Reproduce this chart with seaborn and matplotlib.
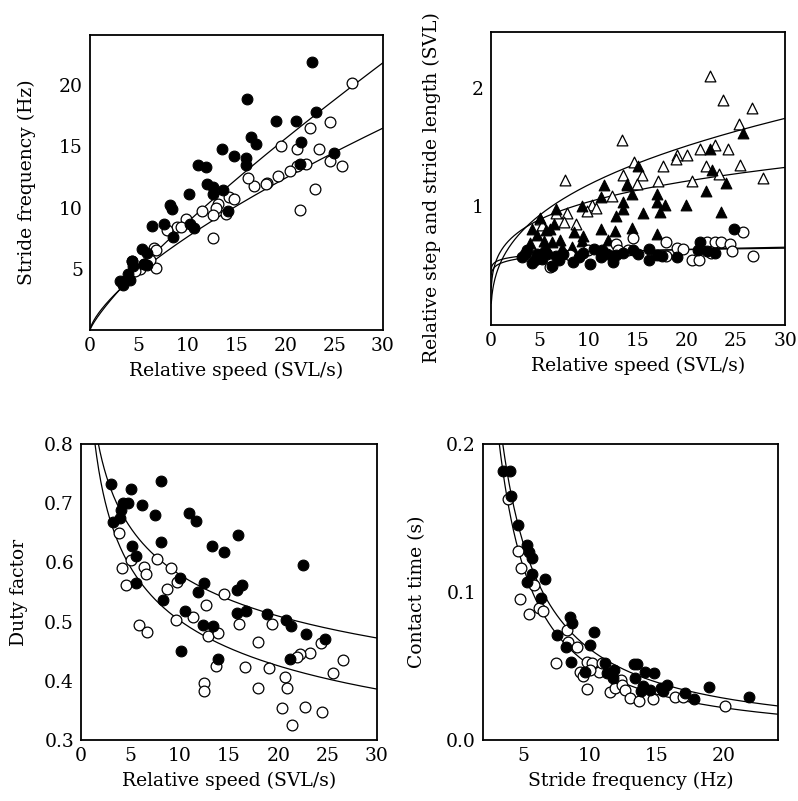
import numpy as np
import matplotlib
matplotlib.use("Agg")
import matplotlib.pyplot as plt
import seaborn as sns

# ---------------- Data ----------------
# Panel A: stride frequency vs relative speed
a_speed_filled = [22.7, 16.1, 23.1, 19.0, 21.1, 16.5, 17.0, 21.6, 13.5, 14.7, 16.0, 16.0, 11.1, 11.9,
                  21.5, 25.0, 12.0, 12.6, 13.6, 12.6, 10.1, 8.2, 8.4, 14.1, 6.3, 7.6, 10.2, 10.6, 8.5,
                  5.3, 5.8, 4.3, 4.4, 5.5, 5.8, 3.9, 3.1, 3.4, 4.1, 4.3, 3.4, 5.5]
a_freq_filled = [21.9, 18.9, 17.8, 17.1, 17.1, 15.75, 15.2, 15.4, 14.8, 14.2, 14.05, 13.45, 13.5, 13.3,
                 13.6, 14.5, 11.9, 11.7, 11.4, 11.1, 11.1, 10.2, 9.9, 9.7, 8.5, 8.7, 8.7, 8.3, 7.6,
                 6.6, 6.3, 5.65, 5.2, 5.4, 5.3, 4.6, 4.0, 3.7, 4.1, 5.6, 3.9, 5.4]
a_speed_open = [26.8, 24.6, 22.5, 19.6, 21.2, 23.4, 24.6, 25.8, 22.1, 21.2, 20.5, 19.2, 18.1, 18.0,
                16.8, 16.2, 23.0, 21.5, 14.2, 14.7, 13.1, 12.9, 12.6, 13.9, 11.5, 12.6, 9.8, 8.9,
                9.3, 7.9, 6.55, 6.8, 6.8, 6.1, 5.1, 4.6]
a_freq_open = [20.2, 17.0, 16.5, 15.0, 14.8, 14.8, 13.8, 13.4, 13.6, 13.4, 13.0, 12.6, 12.0, 11.9,
               11.8, 12.4, 11.5, 9.8, 10.9, 10.7, 10.3, 10.0, 9.4, 9.5, 9.7, 7.55, 9.1, 8.4,
               8.4, 8.2, 6.7, 6.5, 5.1, 5.7, 5.0, 4.8]
a_fit_filled = [1.32, 0.825]   # power-law fit: y = a * x ** b
a_fit_open = [1.51, 0.703]

# Panel B: relative step and stride length vs relative speed
b_speed_tri_open = [22.35, 23.7, 26.6, 25.3, 13.35, 7.6, 14.6, 17.6, 18.96, 18.9, 20.0, 21.3, 22.9,
                    24.2, 21.9, 25.4, 23.3, 27.7, 20.5, 17.0, 15.4, 13.45, 13.9, 14.9, 12.4, 10.3,
                    10.7, 9.8, 7.75, 6.7, 7.5, 8.7, 5.0, 5.2]
b_len_tri_open = [2.10, 1.90, 1.83, 1.69, 1.56, 1.22, 1.37, 1.34, 1.43, 1.40, 1.43, 1.48, 1.52,
                  1.48, 1.34, 1.35, 1.27, 1.24, 1.21, 1.21, 1.26, 1.26, 1.19, 1.19, 1.09, 1.01,
                  0.99, 0.96, 0.94, 0.94, 0.87, 0.85, 0.89, 0.84]
b_speed_tri_filled = [25.75, 22.3, 15.0, 22.6, 24.0, 11.5, 13.9, 11.2, 14.4, 16.9, 16.9, 17.8, 19.9,
                      13.45, 13.45, 12.8, 15.5, 17.3, 21.9, 23.5, 9.3, 6.65, 5.0, 4.2, 6.05, 5.6,
                      6.4, 8.5, 9.4, 11.2, 12.7, 14.4, 12.0, 9.3, 16.9, 4.7, 4.0, 6.2, 7.3, 8.3,
                      7.1, 5.4]
b_len_tri_filled = [1.62, 1.48, 1.34, 1.31, 1.20, 1.18, 1.18, 1.08, 1.10, 1.10, 1.04, 1.01, 1.01,
                    1.04, 0.975, 0.92, 0.94, 0.95, 1.13, 0.95, 1.00, 0.98, 0.90, 0.81, 0.81, 0.80,
                    0.85, 0.78, 0.75, 0.81, 0.79, 0.82, 0.72, 0.71, 0.77, 0.76, 0.69, 0.70, 0.65,
                    0.66, 0.72, 0.71]
b_speed_circ_filled = [3.16, 3.7, 4.2, 4.7, 5.2, 5.7, 6.2, 6.7, 7.4, 8.4, 9.4, 10.1, 10.5, 11.2,
                       11.8, 12.5, 12.8, 13.5, 14.5, 16.1, 16.1, 16.9, 19.0, 21.3, 21.1, 22.9,
                       24.8, 11.3, 3.5, 4.5, 5.5, 7.0, 9.0, 15.0, 17.5, 22.0]
b_len_circ_filled = [0.57, 0.63, 0.52, 0.60, 0.56, 0.60, 0.50, 0.58, 0.60, 0.53, 0.61, 0.51, 0.64,
                     0.57, 0.60, 0.53, 0.59, 0.61, 0.63, 0.64, 0.55, 0.59, 0.57, 0.70, 0.63, 0.61,
                     0.81, 0.63, 0.60, 0.55, 0.62, 0.55, 0.57, 0.60, 0.58, 0.62]
b_speed_circ_open = [25.7, 14.5, 17.9, 12.8, 19.0, 19.6, 22.0, 22.9, 23.5, 24.4, 24.6, 20.5, 21.2,
                     17.9, 22.4, 26.7, 9.95, 6.05, 14.0, 8.1, 13.0]
b_len_circ_open = [0.78, 0.73, 0.70, 0.68, 0.65, 0.64, 0.70, 0.70, 0.70, 0.68, 0.62, 0.55, 0.55,
                   0.58, 0.61, 0.58, 0.63, 0.49, 0.63, 0.59, 0.63]
b_fits = [[0.526, 0.352], [0.62, 0.224], [0.55, 0.048], [0.52, 0.068]]

# Panel C: duty factor vs relative speed
c_speed_filled = [3.04, 5.1, 8.1, 4.3, 4.8, 4.1, 6.2, 7.5, 3.2, 4.0, 10.95, 11.7, 15.9, 8.1, 13.3,
                  14.5, 5.2, 5.6, 22.5, 5.6, 10.0, 12.5, 11.9, 15.8, 16.3, 8.3, 10.5, 15.8, 16.7,
                  18.8, 20.8, 21.3, 12.4, 13.4, 22.8, 24.7, 10.1, 13.9, 21.2]
c_duty_filled = [0.732, 0.724, 0.737, 0.70, 0.70, 0.689, 0.697, 0.680, 0.669, 0.675, 0.683, 0.670,
                 0.646, 0.635, 0.628, 0.617, 0.627, 0.610, 0.596, 0.565, 0.573, 0.565, 0.550,
                 0.553, 0.562, 0.536, 0.518, 0.515, 0.518, 0.513, 0.502, 0.493, 0.494, 0.493,
                 0.479, 0.471, 0.451, 0.436, 0.436]
c_speed_open = [3.85, 5.1, 7.7, 4.2, 6.4, 6.6, 9.1, 4.6, 8.75, 9.7, 14.5, 12.7, 11.4, 9.6, 5.9, 6.65,
                16.0, 19.4, 12.9, 13.9, 17.9, 23.2, 22.2, 21.9, 24.3, 26.5, 13.7, 16.6, 19.0, 20.7,
                25.5, 12.5, 12.5, 17.9, 20.9, 20.4, 22.7, 24.4, 21.35]
c_duty_open = [0.649, 0.604, 0.605, 0.590, 0.592, 0.580, 0.591, 0.562, 0.555, 0.567, 0.547, 0.528,
               0.508, 0.503, 0.494, 0.483, 0.496, 0.496, 0.475, 0.480, 0.466, 0.447, 0.446, 0.441,
               0.463, 0.435, 0.425, 0.424, 0.421, 0.407, 0.413, 0.396, 0.383, 0.387, 0.387, 0.354,
               0.356, 0.348, 0.325]
c_fit_filled = [0.889, -0.186]
c_fit_open = [0.87, -0.239]

# Panel D: contact time vs stride frequency
d_freq_filled = [3.52, 4.03, 4.08, 4.65, 5.32, 5.47, 5.7, 5.65, 5.3, 6.65, 6.35, 8.5, 8.7, 10.3, 7.57,
                 10.0, 8.25, 8.6, 11.1, 9.65, 11.83, 11.25, 11.7, 13.3, 13.55, 14.15, 14.8, 13.4,
                 14.0, 14.5, 13.8, 15.3, 15.8, 15.5, 17.15, 17.8, 18.9, 21.9]
d_time_filled = [0.182, 0.182, 0.165, 0.145, 0.132, 0.127, 0.123, 0.112, 0.107, 0.109, 0.096, 0.083,
                 0.079, 0.073, 0.071, 0.064, 0.063, 0.0525, 0.052, 0.046, 0.047, 0.045, 0.0417,
                 0.051, 0.051, 0.046, 0.045, 0.042, 0.0367, 0.0338, 0.0333, 0.035, 0.037, 0.033,
                 0.0315, 0.028, 0.036, 0.0288]
d_freq_open = [3.9, 4.6, 4.83, 5.8, 4.75, 5.45, 6.2, 6.5, 8.3, 8.4, 9.05, 7.48, 9.8, 10.2, 9.3, 9.5,
               9.8, 10.65, 11.5, 11.9, 12.3, 12.4, 12.65, 13.0, 13.7, 14.7, 16.4, 17.0, 20.15,
               10.9, 10.0]
d_time_open = [0.163, 0.128, 0.116, 0.105, 0.095, 0.085, 0.089, 0.087, 0.074, 0.066, 0.063, 0.052,
               0.053, 0.052, 0.046, 0.043, 0.0345, 0.046, 0.0327, 0.035, 0.0405, 0.037, 0.034,
               0.0286, 0.0264, 0.0275, 0.0288, 0.029, 0.0232, 0.052, 0.047]
d_fit_filled = [0.806, -1.118]
d_fit_open = [0.826, -1.213]

# ---------------- Style ----------------
sns.set_style("white")
FS = 13.5
plt.rcParams["font.family"] = ["DejaVu Serif"]
plt.rcParams["font.size"] = FS
plt.rcParams["xtick.direction"] = "in"
plt.rcParams["ytick.direction"] = "in"
plt.rcParams["xtick.color"] = "black"
plt.rcParams["ytick.color"] = "black"
plt.rcParams["text.color"] = "black"
plt.rcParams["axes.labelcolor"] = "black"

fig = plt.figure(figsize=(7.98, 8.01), dpi=100)
ax_a = fig.add_axes([0.1128, 0.588, 0.3672, 0.3683])
ax_b = fig.add_axes([0.615, 0.5943, 0.3688, 0.3658])
ax_c = fig.add_axes([0.1015, 0.0762, 0.371, 0.3695])
ax_d = fig.add_axes([0.6053, 0.0762, 0.3697, 0.3695])

MS = 60
LW_FIT = 0.9


def filled(ax, x, y, marker="o"):
    sns.scatterplot(x=x, y=y, ax=ax, marker=marker, s=MS, color="black",
                    edgecolor="black", linewidth=0.8, zorder=3, legend=False)


def hollow(ax, x, y, marker="o"):
    sns.scatterplot(x=x, y=y, ax=ax, marker=marker, s=MS, color="white",
                    edgecolor="black", linewidth=0.9, zorder=3, legend=False)


def fit(ax, coef, x0, x1):
    xs = np.linspace(x0, x1, 400)
    sns.lineplot(x=xs, y=coef[0] * xs ** coef[1], ax=ax, color="black",
                 linewidth=LW_FIT, zorder=2, legend=False)


# Panel A
fit(ax_a, a_fit_filled, 0.0, 30)
fit(ax_a, a_fit_open, 0.0, 30)
hollow(ax_a, a_speed_open, a_freq_open)
filled(ax_a, a_speed_filled, a_freq_filled)
ax_a.set_xlim(0, 30)
ax_a.set_ylim(0, 24.1)
ax_a.set_xticks([0, 5, 10, 15, 20, 25, 30])
ax_a.set_yticks([5, 10, 15, 20])
ax_a.set_xlabel("Relative speed (SVL/s)")
ax_a.set_ylabel("Stride frequency (Hz)")

# Panel B
for coef in b_fits:
    fit(ax_b, coef, 0.05, 30)
hollow(ax_b, b_speed_tri_open, b_len_tri_open, marker="^")
filled(ax_b, b_speed_tri_filled, b_len_tri_filled, marker="^")
hollow(ax_b, b_speed_circ_open, b_len_circ_open)
filled(ax_b, b_speed_circ_filled, b_len_circ_filled)
ax_b.set_xlim(0, 30)
ax_b.set_ylim(0, 2.47)
ax_b.set_xticks([0, 5, 10, 15, 20, 25, 30])
ax_b.set_yticks([1, 2])
ax_b.set_xlabel("Relative speed (SVL/s)")
ax_b.set_ylabel("Relative step and stride length (SVL)")

# Panel C
fit(ax_c, c_fit_filled, 1.2, 30)
fit(ax_c, c_fit_open, 1.0, 30)
hollow(ax_c, c_speed_open, c_duty_open)
filled(ax_c, c_speed_filled, c_duty_filled)
ax_c.set_xlim(0, 30)
ax_c.set_ylim(0.3, 0.8)
ax_c.set_xticks([0, 5, 10, 15, 20, 25, 30])
ax_c.set_yticks([0.3, 0.4, 0.5, 0.6, 0.7, 0.8])
ax_c.set_yticklabels(["0.3", "0.4", "0.5", "0.6", "0.7", "0.8"])
ax_c.set_xlabel("Relative speed (SVL/s)")
ax_c.set_ylabel("Duty factor")

# Panel D
fit(ax_d, d_fit_filled, 3.0, 24.1)
fit(ax_d, d_fit_open, 3.0, 24.1)
hollow(ax_d, d_freq_open, d_time_open)
filled(ax_d, d_freq_filled, d_time_filled)
ax_d.set_xlim(2, 24.1)
ax_d.set_ylim(0, 0.2)
ax_d.set_xticks([5, 10, 15, 20])
ax_d.set_yticks([0.0, 0.1, 0.2])
ax_d.set_yticklabels(["0.0", "0.1", "0.2"])
ax_d.set_xlabel("Stride frequency (Hz)")
ax_d.set_ylabel("Contact time (s)")

for ax in (ax_a, ax_b, ax_c, ax_d):
    for sp in ax.spines.values():
        sp.set_visible(True)
        sp.set_color("black")
        sp.set_linewidth(1.3)
    ax.tick_params(axis="both", direction="in", length=7.5, width=1.2,
                   labelsize=FS, pad=5, top=False, right=False)
    ax.xaxis.labelpad = 5
    ax.set_facecolor("white")

ax_a.yaxis.set_label_coords(-0.184, 0.5)
ax_b.yaxis.set_label_coords(-0.169, 0.47)
ax_c.yaxis.set_label_coords(-0.179, 0.5)
ax_d.yaxis.set_label_coords(-0.193, 0.5)

fig.savefig("out.png", dpi=100, facecolor="white")
